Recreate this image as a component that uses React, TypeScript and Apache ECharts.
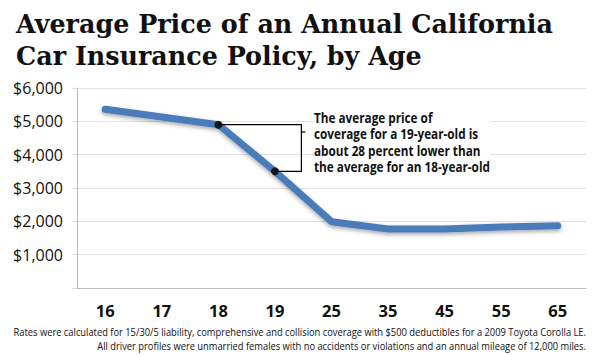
import React, { useEffect, useRef } from "react";
import * as echarts from "echarts";

const ages = ["16", "17", "18", "19", "25", "35", "45", "55", "65"];
const prices = [5360, 5130, 4900, 3500, 1990, 1770, 1770, 1830, 1870];
const highlightAges = ["18", "19"];
const yTicks = { min: 0, max: 6000, interval: 1000 };
const titleLines = ["Average Price of an Annual California", "Car Insurance Policy, by Age"];
const noteLines = [
  "The average price of",
  "coverage for a 19-year-old is",
  "about 28 percent lower than",
  "the average for an 18-year-old",
];
const footLines = [
  "Rates were calculated for 15/30/5 liability, comprehensive and collision coverage with $500 deductibles for a 2009 Toyota Corolla LE.",
  "All driver profiles were unmarried females with no accidents or violations and an annual mileage of 12,000 miles.",
];

export default function App() {
  const ref = useRef<HTMLDivElement>(null);
  useEffect(() => {
    if (!ref.current) return;
    const chart = echarts.init(ref.current, null, { renderer: "svg" });
    const sans = "'Open Sans', 'Noto Sans', sans-serif";
    const highlightData = highlightAges.map((a) => [a, prices[ages.indexOf(a)]]);
    chart.setOption({
      animation: false,
      backgroundColor: "#ffffff",
      title: {
        text: titleLines.join("\n"),
        left: 11,
        top: 3,
        textStyle: {
          fontFamily: "'DejaVu Serif', serif",
          fontWeight: "bold",
          fontSize: 25.4,
          lineHeight: 32,
          color: "#111",
        },
      },
      grid: { left: 77, right: 14, top: 88, bottom: 67 },
      xAxis: {
        type: "category",
        data: ages,
        boundaryGap: true,
        axisLine: { lineStyle: { color: "#bdbdbd", width: 1 } },
        axisTick: { alignWithLabel: true, length: 5, lineStyle: { color: "#bdbdbd" } },
        axisLabel: {
          margin: 14,
          fontFamily: sans,
          fontWeight: "bold",
          fontSize: 16.5,
          color: "#111",
        },
      },
      yAxis: {
        type: "value",
        min: yTicks.min,
        max: yTicks.max,
        interval: yTicks.interval,
        axisLine: { show: true, lineStyle: { color: "#bdbdbd" } },
        axisTick: { show: true, length: 5, lineStyle: { color: "#dcdcdc" } },
        splitLine: { lineStyle: { color: "#e2e2e2" } },
        axisLabel: {
          margin: 14,
          fontFamily: sans,
          fontSize: 16,
          color: "#111",
          formatter: (v: number) => (v === 0 ? "" : "$" + v.toLocaleString("en-US")),
        },
      },
      series: [
        {
          type: "line",
          data: prices,
          symbol: "none",
          lineStyle: {
            color: "#4a7bb8",
            width: 7,
            cap: "round",
            join: "round",
            shadowColor: "rgba(0,0,0,0.35)",
            shadowBlur: 4,
            shadowOffsetY: 2,
          },
          z: 2,
        },
        {
          type: "scatter",
          data: highlightData,
          symbol: "circle",
          symbolSize: 8,
          itemStyle: { color: "#000" },
          z: 5,
        },
      ],
    });

    const p18 = chart.convertToPixel({ gridIndex: 0 }, highlightData[0]) as number[];
    const p19 = chart.convertToPixel({ gridIndex: 0 }, highlightData[1]) as number[];
    const bx = p18[0] + 83;
    chart.setOption({
      graphic: [
        {
          type: "polyline",
          shape: { points: [[p18[0], p18[1]], [bx, p18[1]], [bx, p19[1]], [p19[0], p19[1]]] },
          style: { stroke: "#000", lineWidth: 1.2, fill: null },
          z: 4,
        },
        {
          type: "line",
          shape: { x1: bx, y1: 132, x2: bx + 4, y2: 132 },
          style: { stroke: "#000", lineWidth: 1.2 },
          z: 4,
        },
        {
          type: "text",
          x: 314,
          y: 109,
          scaleX: 0.84,
          style: {
            text: noteLines.join("\n"),
            fontFamily: sans,
            fontWeight: "bold",
            fontSize: 14,
            lineHeight: 16.5,
            fill: "#111",
            backgroundColor: "#fff",
          },
          z: 6,
        },
        {
          type: "text",
          x: 586,
          y: 325,
          scaleX: 0.89,
          style: {
            text: footLines.join("\n"),
            align: "right",
            fontFamily: sans,
            fontSize: 10.5,
            lineHeight: 14,
            fill: "#111",
          },
        },
      ],
    });
    return () => chart.dispose();
  }, []);
  return <div ref={ref} style={{ width: 600, height: 355, position: "absolute", left: 0, top: 0 }} />;
}
